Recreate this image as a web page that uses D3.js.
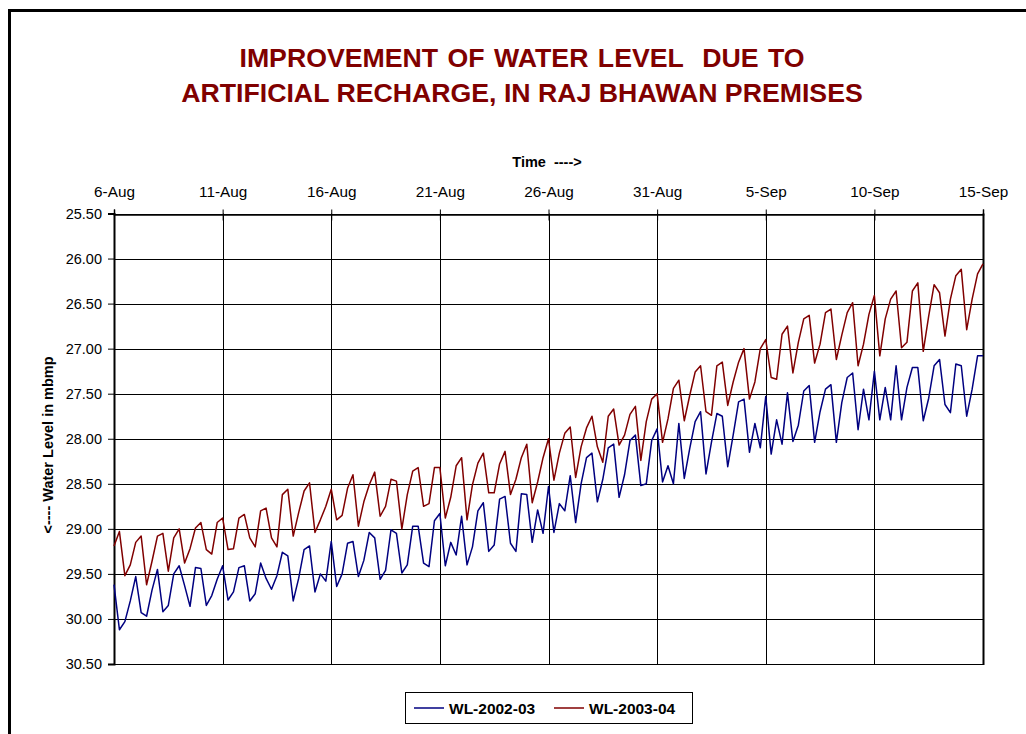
<!DOCTYPE html>
<html>
<head>
<meta charset="utf-8">
<script src="https://cdn.jsdelivr.net/npm/d3@7"></script>
<style>
  html, body { margin: 0; padding: 0; background: #fff; }
  svg { display: block; font-family: "Liberation Sans", Arial, sans-serif; }
</style>
</head>
<body>
<svg id="chart" width="1026" height="734"></svg>
<script>
// ---------- DATA ----------
const titleLines = ["IMPROVEMENT OF WATER LEVEL  DUE TO", "ARTIFICIAL RECHARGE, IN RAJ BHAWAN PREMISES"];
const xAxisTitle = "Time  ---->";
const yAxisTitle = "<---- Water Level in mbmp";
const seriesNames = ["WL-2002-03", "WL-2003-04"];
const startDate = new Date(2003, 7, 6);
const endDate = new Date(2003, 8, 15);
const xTickDates = ["2003-08-06","2003-08-11","2003-08-16","2003-08-21","2003-08-26","2003-08-31","2003-09-05","2003-09-10","2003-09-15"];
const yTicks = [25.5, 26.0, 26.5, 27.0, 27.5, 28.0, 28.5, 29.0, 29.5, 30.0, 30.5];
const samplesPerDay = 4;

// WL-2002-03 (6-hourly readings, mbmp)
const wl2002 = [
  29.62, 30.12, 30.03, 29.80,
  29.53, 29.93, 29.97, 29.68,
  29.45, 29.92, 29.85, 29.50,
  29.41, 29.63, 29.86, 29.43,
  29.44, 29.85, 29.74, 29.56,
  29.41, 29.79, 29.70, 29.43,
  29.41, 29.80, 29.72, 29.38,
  29.55, 29.67, 29.52, 29.26,
  29.30, 29.80, 29.55, 29.23,
  29.19, 29.70, 29.50, 29.58,
  29.14, 29.64, 29.50, 29.16,
  29.14, 29.53, 29.35, 29.04,
  29.10, 29.56, 29.46, 29.01,
  29.05, 29.49, 29.40, 28.97,
  28.97, 29.38, 29.42, 28.91,
  28.83, 29.41, 29.15, 29.29,
  28.86, 29.40, 29.20, 28.80,
  28.71, 29.25, 29.18, 28.67,
  28.64, 29.16, 29.25, 28.61,
  28.62, 29.15, 28.79, 29.05,
  28.53, 29.04, 28.72, 28.80,
  28.41, 28.93, 28.50, 28.21,
  28.16, 28.70, 28.45, 28.10,
  28.06, 28.65, 28.40, 28.02,
  27.96, 28.52, 28.50, 28.02,
  27.89, 28.48, 28.30, 28.50,
  27.83, 28.44, 28.11, 27.81,
  27.70, 28.39, 28.04, 27.72,
  27.75, 28.31, 27.96, 27.59,
  27.56, 28.15, 27.83, 28.10,
  27.53, 28.17, 27.79, 28.06,
  27.49, 28.03, 27.85, 27.47,
  27.41, 28.04, 27.70, 27.45,
  27.40, 28.04, 27.60, 27.32,
  27.27, 27.90, 27.45, 27.79,
  27.25, 27.79, 27.43, 27.79,
  27.19, 27.79, 27.43, 27.21,
  27.21, 27.80, 27.55, 27.19,
  27.12, 27.62, 27.71, 27.17,
  27.19, 27.75, 27.45, 27.08,
  27.08
];

// WL-2003-04 (6-hourly readings, mbmp)
const wl2003 = [
  29.19, 29.03, 29.52, 29.40,
  29.15, 29.08, 29.62, 29.36,
  29.08, 29.05, 29.47, 29.10,
  29.00, 29.38, 29.22, 28.99,
  28.93, 29.23, 29.28, 28.93,
  28.88, 29.23, 29.22, 28.88,
  28.84, 29.10, 29.20, 28.80,
  28.77, 29.10, 29.20, 28.62,
  28.56, 29.08, 28.82, 28.58,
  28.49, 29.04, 28.90, 28.75,
  28.56, 28.90, 28.85, 28.55,
  28.40, 28.97, 28.70, 28.51,
  28.37, 28.86, 28.75, 28.45,
  28.47, 29.00, 28.62, 28.36,
  28.32, 28.75, 28.72, 28.32,
  28.32, 28.88, 28.65, 28.30,
  28.21, 28.90, 28.51, 28.27,
  28.16, 28.60, 28.60, 28.28,
  28.14, 28.62, 28.45, 28.21,
  28.06, 28.71, 28.48, 28.21,
  28.00, 28.46, 28.16, 27.94,
  27.87, 28.43, 28.09, 27.88,
  27.75, 28.09, 28.26, 27.75,
  27.67, 28.07, 27.96, 27.73,
  27.64, 28.24, 27.81, 27.56,
  27.50, 28.04, 27.78, 27.44,
  27.35, 27.80, 27.52, 27.26,
  27.19, 27.70, 27.74, 27.19,
  27.15, 27.63, 27.37, 27.15,
  27.00, 27.56, 27.37, 27.00,
  26.90, 27.32, 27.34, 26.84,
  26.75, 27.27, 26.93, 26.67,
  26.63, 27.16, 26.95, 26.60,
  26.56, 27.12, 26.85, 26.60,
  26.49, 27.19, 26.95, 26.62,
  26.41, 27.08, 26.67, 26.45,
  26.36, 26.99, 26.93, 26.36,
  26.27, 27.03, 26.64, 26.29,
  26.38, 26.86, 26.45, 26.19,
  26.12, 26.79, 26.45, 26.17,
  26.06
];

const seriesColors = ["#000080", "#800000"];

// ---------- CHART ----------
const svg = d3.select("#chart");
const plot = { left: 114, right: 983, top: 213.5, bottom: 664 };

// outer frame
svg.append("rect")
  .attr("x", 9.5).attr("y", 10.5)
  .attr("width", 1200).attr("height", 1000)
  .attr("fill", "none").attr("stroke", "#000").attr("stroke-width", 3);

// title
svg.append("g").selectAll("text").data(titleLines).join("text")
  .attr("x", 522)
  .attr("y", (d, i) => 66.5 + i * 35.8)
  .attr("text-anchor", "middle")
  .attr("fill", "#800000")
  .attr("font-weight", "bold")
  .attr("font-size", 26.7)
  .attr("word-spacing", (d, i) => i === 0 ? 2 : 0)
  .style("white-space", "pre")
  .text(d => d);

const parse = d3.timeParse("%Y-%m-%d");
const x = d3.scaleTime().domain([startDate, endDate]).range([plot.left, plot.right]);
const y = d3.scaleLinear().domain([25.5, 30.5]).range([plot.top, plot.bottom]);

const toPoints = arr => arr.map((v, i) => ({
  t: new Date(startDate.getTime() + i * 864e5 / samplesPerDay),
  v
}));

// gridlines
const gx = svg.append("g").attr("class", "grid-x");
gx.selectAll("line").data(xTickDates.map(parse)).join("line")
  .attr("x1", d => Math.round(x(d)) + 0.5).attr("x2", d => Math.round(x(d)) + 0.5)
  .attr("y1", plot.top).attr("y2", plot.bottom)
  .attr("stroke", "#000").attr("stroke-width", 1);
const gy = svg.append("g").attr("class", "grid-y");
gy.selectAll("line").data(yTicks).join("line")
  .attr("x1", plot.left).attr("x2", plot.right)
  .attr("y1", d => Math.round(y(d)) + 0.5).attr("y2", d => Math.round(y(d)) + 0.5)
  .attr("stroke", "#000").attr("stroke-width", 1);

// right plot border
svg.append("line").attr("x1", plot.right + 0.5).attr("x2", plot.right + 0.5)
  .attr("y1", plot.top).attr("y2", plot.bottom + 1)
  .attr("stroke", "#000").attr("stroke-width", 2);

// top x axis
const xAxis = d3.axisTop(x)
  .tickValues(xTickDates.map(parse))
  .tickFormat(d3.timeFormat("%-d-%b"))
  .tickSize(5).tickPadding(13);
const xg = svg.append("g").attr("transform", `translate(0,${Math.round(plot.top) + 0.5})`).call(xAxis);
xg.select(".domain").attr("stroke", "#000").attr("stroke-width", 1.5);
xg.selectAll(".tick line").attr("stroke", "#000").attr("y2", 6).attr("y1", -5);
xg.selectAll(".tick text")
  .attr("fill", "#000")
  .attr("font-size", 15.3)
  .attr("font-family", "'Liberation Sans', Arial, sans-serif");

// left y axis
const yAxis = d3.axisLeft(y)
  .tickValues(yTicks)
  .tickFormat(d3.format(".2f"))
  .tickSize(6).tickPadding(6);
const yg = svg.append("g").attr("transform", `translate(${plot.left},0)`).call(yAxis);
yg.select(".domain").attr("stroke", "#000").attr("stroke-width", 2);
yg.selectAll(".tick line").attr("stroke", "#000");
yg.selectAll(".tick text")
  .attr("fill", "#000")
  .attr("font-size", 14.5)
  .attr("font-family", "'Liberation Sans', Arial, sans-serif");

// axis titles
svg.append("text")
  .attr("x", 547).attr("y", 167)
  .attr("text-anchor", "middle")
  .attr("font-weight", "bold").attr("font-size", 14.5)
  .style("white-space", "pre")
  .text(xAxisTitle);

svg.append("text")
  .attr("transform", "translate(53,445) rotate(-90)")
  .attr("text-anchor", "middle")
  .attr("font-weight", "bold").attr("font-size", 14.5)
  .text(yAxisTitle);

// series lines
const line = d3.line().x(d => x(d.t)).y(d => y(d.v));
const allSeries = [wl2002, wl2003];
svg.append("g").selectAll("path").data(allSeries).join("path")
  .attr("d", d => line(toPoints(d)))
  .attr("fill", "none")
  .attr("stroke", (d, i) => seriesColors[i])
  .attr("stroke-width", 1.5)
  .attr("stroke-linejoin", "round");

// legend
const lg = svg.append("g");
lg.append("rect").attr("x", 405.5).attr("y", 692.5).attr("width", 287).attr("height", 31)
  .attr("fill", "#fff").attr("stroke", "#000").attr("stroke-width", 1);
const legendX = [414, 554];
seriesNames.forEach((name, i) => {
  lg.append("line")
    .attr("x1", legendX[i]).attr("x2", legendX[i] + 30)
    .attr("y1", 708).attr("y2", 708)
    .attr("stroke", seriesColors[i]).attr("stroke-width", 1.5);
  lg.append("text")
    .attr("x", legendX[i] + 35).attr("y", 713.5)
    .attr("font-weight", "bold").attr("font-size", 15.5)
    .text(name);
});
</script>
</body>
</html>
